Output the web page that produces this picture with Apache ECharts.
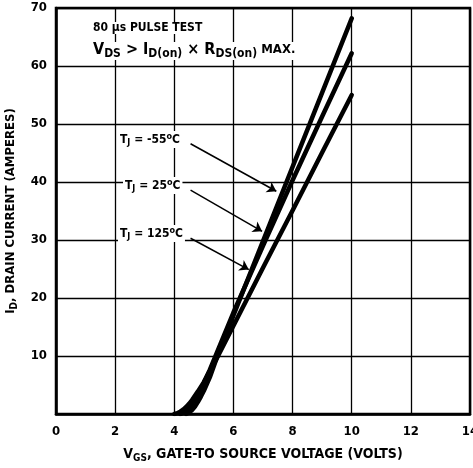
<!DOCTYPE html>
<html>
<head>
<meta charset="utf-8">
<script src="https://cdn.jsdelivr.net/npm/echarts@6/dist/echarts.min.js"></script>
<style>html,body{margin:0;padding:0;background:#fff}#c{width:473px;height:468px}</style>
</head>
<body>
<div id="c"></div>
<script>
// ---- data ----
var xTicks = [0, 2, 4, 6, 8, 10, 12, 14];
var yTicks = [0, 10, 20, 30, 40, 50, 60, 70];
var seriesNames = ['TJ = -55°C', 'TJ = 25°C', 'TJ = 125°C'];
var curveM55 = [[4.4,0],[4.5,0.25],[4.6,0.7],[4.7,1.3],[4.8,2.1],[4.9,3.0],[5.0,4.0],[5.2,6.3],[5.46,10],[6,17],[7,29.8],[8,42.6],[9,55.4],[10,68.2]];
var curve25 = [[4.2,0],[4.3,0.15],[4.4,0.45],[4.5,1.0],[4.6,1.7],[4.7,2.5],[4.8,3.4],[5.0,5.4],[5.2,7.6],[5.5,11.3],[6,17.5],[7,29],[8,40.3],[9,51.3],[10,62.2]];
var curve125 = [[4.0,0],[4.1,0.12],[4.2,0.4],[4.3,0.75],[4.4,1.2],[4.5,1.75],[4.6,2.4],[4.8,3.9],[5.0,5.5],[5.2,7.4],[5.5,10.2],[6,15.2],[7,25.2],[8,35.1],[9,45.1],[10,55]];
// arrows from label to curve, data coordinates
var arrowStarts = [[4.55,46.6],[4.55,38.6],[4.55,30.3]];
var arrowEnds = [[7.45,38.4],[6.97,31.5],[6.52,24.9]];

var FF = '"Liberation Sans Narrow","DejaVu Sans Condensed","Liberation Sans",sans-serif';
var chart = echarts.init(document.getElementById('c'));

function lineSeries(name, data) {
  return {
    name: name, type: 'line', data: data, showSymbol: false, smooth: false,
    lineStyle: {color: '#000', width: 4.5, join: 'round', cap: 'round'}, z: 3
  };
}
var arrows = [];
for (var i = 0; i < arrowStarts.length; i++) {
  arrows.push([{coord: arrowStarts[i]}, {coord: arrowEnds[i]}]);
}
var series = [lineSeries(seriesNames[0], curveM55), lineSeries(seriesNames[1], curve25), lineSeries(seriesNames[2], curve125)];
series.push({
  name: 'arrows', type: 'line', data: [], z: 10, silent: true, color: '#000',
  markLine: {
    silent: true, symbol: ['none', 'arrow'], symbolSize: 9, z: 10,
    lineStyle: {color: '#000', width: 1.5, type: 'solid'}, itemStyle: {color: '#000'}, label: {show: false},
    data: arrows, animation: false
  }
});

var supRich = {
  b: {fontFamily: FF, fontWeight: 'bold', fontSize: 12, color: '#000'},
  sub: {fontFamily: FF, fontWeight: 'bold', fontSize: 9, color: '#000', verticalAlign: 'bottom', padding: [6, 0, 0, 0]},
  sup: {fontFamily: FF, fontWeight: 'bold', fontSize: 9, color: '#000', padding: [0, 0, 6, 0]}
};
function tjLabel(left, top, t) {
  return {left: left, top: top, text: '{b|T}{sub|J}{b| = ' + t + '}{sup|o}{b|C}', backgroundColor: '#fff', padding: [1, 2],
    textStyle: {rich: supRich}};
}
var option = {
  animation: false,
  backgroundColor: '#fff',
  grid: {left: 56, right: 3, top: 8, bottom: 54, show: true, borderColor: '#000', borderWidth: 2.5,
         containLabel: false, outerBoundsMode: 'none'},
  title: [
    {left: 91, top: 22, text: '80 \u03bcs PULSE TEST', backgroundColor: '#fff', padding: [0, 2],
     textStyle: {fontFamily: FF, fontWeight: 'bold', fontSize: 12, color: '#000'}},
    {left: 91, top: 40, text: '{m|V}{s|DS}{m| > I}{s|D(on)}{m| \u00d7 R}{s|DS(on)}{t| MAX.}', backgroundColor: '#fff', padding: [0, 2],
     textStyle: {rich: {
       m: {fontFamily: FF, fontSize: 16, color: '#000'},
       t: {fontFamily: FF, fontSize: 13, color: '#000'},
       s: {fontFamily: FF, fontWeight: 'bold', fontSize: 12, color: '#000', padding: [8, 0, 0, 0]}
     }}},
    tjLabel(118, 131, '-55'),
    tjLabel(123, 177, '25'),
    tjLabel(118, 225, '125')
  ],
  xAxis: {
    type: 'value', min: 0, max: 14, interval: 2,
    name: '{v|V}{s|GS}{v|, GATE-TO SOURCE VOLTAGE (VOLTS)}', nameLocation: 'middle', nameGap: 32,
    nameTextStyle: {rich: {
      v: {fontFamily: FF, fontWeight: 'bold', fontSize: 14, color: '#000'},
      s: {fontFamily: FF, fontWeight: 'bold', fontSize: 10, color: '#000', padding: [7, 0, 0, 0]}
    }},
    axisLine: {show: true, lineStyle: {color: '#000', width: 2.5}},
    axisTick: {show: false},
    axisLabel: {margin: 11, fontFamily: FF, fontWeight: 'bold', fontSize: 13, color: '#000',
      formatter: function (v) { return xTicks.indexOf(v) >= 0 ? String(v) : ''; }},
    splitLine: {show: true, lineStyle: {color: '#000', width: 1.3}}
  },
  yAxis: {
    type: 'value', min: 0, max: 70, interval: 10,
    name: '{v|I}{s|D}{v|, DRAIN CURRENT (AMPERES)}', nameLocation: 'middle', nameGap: 37, nameRotate: 90,
    nameTextStyle: {rich: {
      v: {fontFamily: FF, fontWeight: 'bold', fontSize: 13, color: '#000'},
      s: {fontFamily: FF, fontWeight: 'bold', fontSize: 10, color: '#000', padding: [7, 0, 0, 0]}
    }},
    axisLine: {show: true, lineStyle: {color: '#000', width: 2.5}},
    axisTick: {show: false},
    axisLabel: {margin: 9, fontFamily: FF, fontWeight: 'bold', fontSize: 13, color: '#000',
      formatter: function (v) { return (v === 0 || yTicks.indexOf(v) < 0) ? '' : String(v); }},
    splitLine: {show: true, lineStyle: {color: '#000', width: 1.3}}
  },
  series: series
};
chart.setOption(option);
</script>
</body>
</html>
